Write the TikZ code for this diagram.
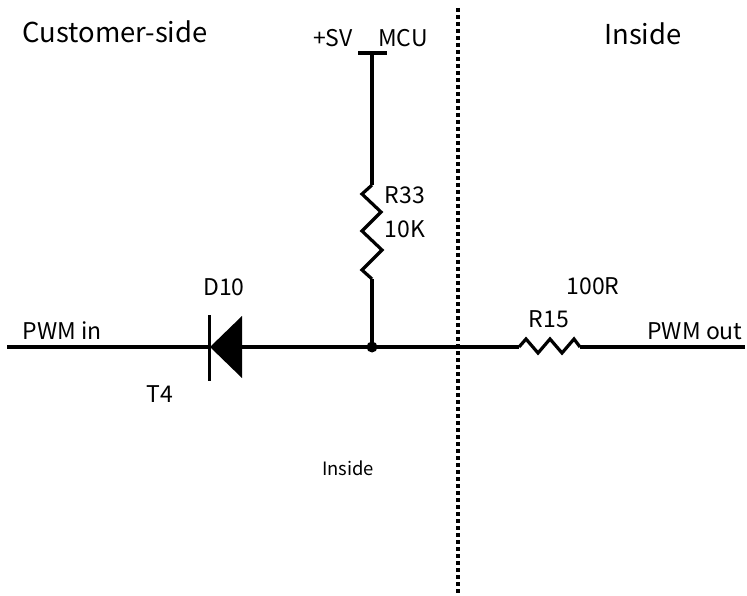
\documentclass[tikz,border=0pt]{standalone}
\usepackage{fontspec}
\setmainfont{Noto Sans CJK SC}
\tikzset{
  wire/.style={draw=black,line width=3.2pt,line cap=butt,line join=miter},
  thin wire/.style={draw=black,line width=3.2pt,line join=miter},
  lab/.style={inner sep=0pt,anchor=center,text=black,font=\fontsize{23pt}{26pt}\selectfont},
  big/.style={lab,font=\fontsize{27.4pt}{30pt}\selectfont},
  small/.style={lab,font=\fontsize{18.4pt}{21pt}\selectfont},
  divider/.style={draw=black,line width=3.6pt,dash pattern=on 3.6pt off 3.4pt}
}
\begin{document}
\begin{tikzpicture}[x=1pt,y=-1pt]
\useasboundingbox (0,0) rectangle (747,596);
% anchor points
\coordinate (wl) at (7,347);
\coordinate (wr) at (745,347);
\coordinate (kath) at (210,347);
\coordinate (an) at (242,347);
\coordinate (junc) at (372,347);
\coordinate (r33t) at (372,185);
\coordinate (r33b) at (372,279);
\coordinate (sup) at (372,53);
\coordinate (supl) at (358,53);
\coordinate (supr) at (387,53);
\coordinate (r15l) at (519,347);
\coordinate (r15r) at (580,347);
\coordinate (dt) at (458,8);
\coordinate (db) at (458,596);
\coordinate (bt) at (209.5,315);
\coordinate (bb) at (209.5,381);
% divider
\draw[divider] (dt) -- (db);
% wires
\draw[wire] (wl) -- (kath);
\draw[wire] (an) -- (junc);
\draw[wire] (junc) -- (r15l);
\draw[wire] (r15r) -- (wr);
\draw[wire] (sup) -- (r33t);
\draw[wire] (r33b) -- (junc);
\draw[wire] (supl) -- (supr);
% R33
\draw[thin wire] (r33t) -- ++(-10,9) -- ++(19,18) -- ++(-19,19) -- ++(20,19) -- ++(-20,20) -- (r33b);
% R15
\draw[thin wire] (r15l) -- ++(7,-8) -- ++(12,14) -- ++(12,-14) -- ++(12,14) -- ++(12,-14) -- (r15r);
% diode
\draw[wire] (bt) -- (bb);
\fill[black] (kath) -- (242,316) -- (242,378) -- cycle;
% junction
\fill[black] (junc) circle (5.5);
% labels
\node[big] (cust) at (115,32) {Customer-side};
\node[big] (ins) at (643,34) {Inside};
\node[lab] (sv) at (333,38) {+SV};
\node[lab] (mcu) at (403,38) {MCU};
\node[lab] (r33) at (405,195) {R33};
\node[lab] (k10) at (405,229) {10K};
\node[lab] (d10) at (224,287) {D10};
\node[lab] (pin) at (62,331) {PWM in};
\node[lab] (t4) at (160,394) {T4};
\node[lab] (r100) at (593,286) {100R};
\node[lab] (r15) at (549,319) {R15};
\node[lab] (pout) at (695,331) {PWM out};
\node[small] (ins2) at (348,468) {Inside};
\end{tikzpicture}
\end{document}
